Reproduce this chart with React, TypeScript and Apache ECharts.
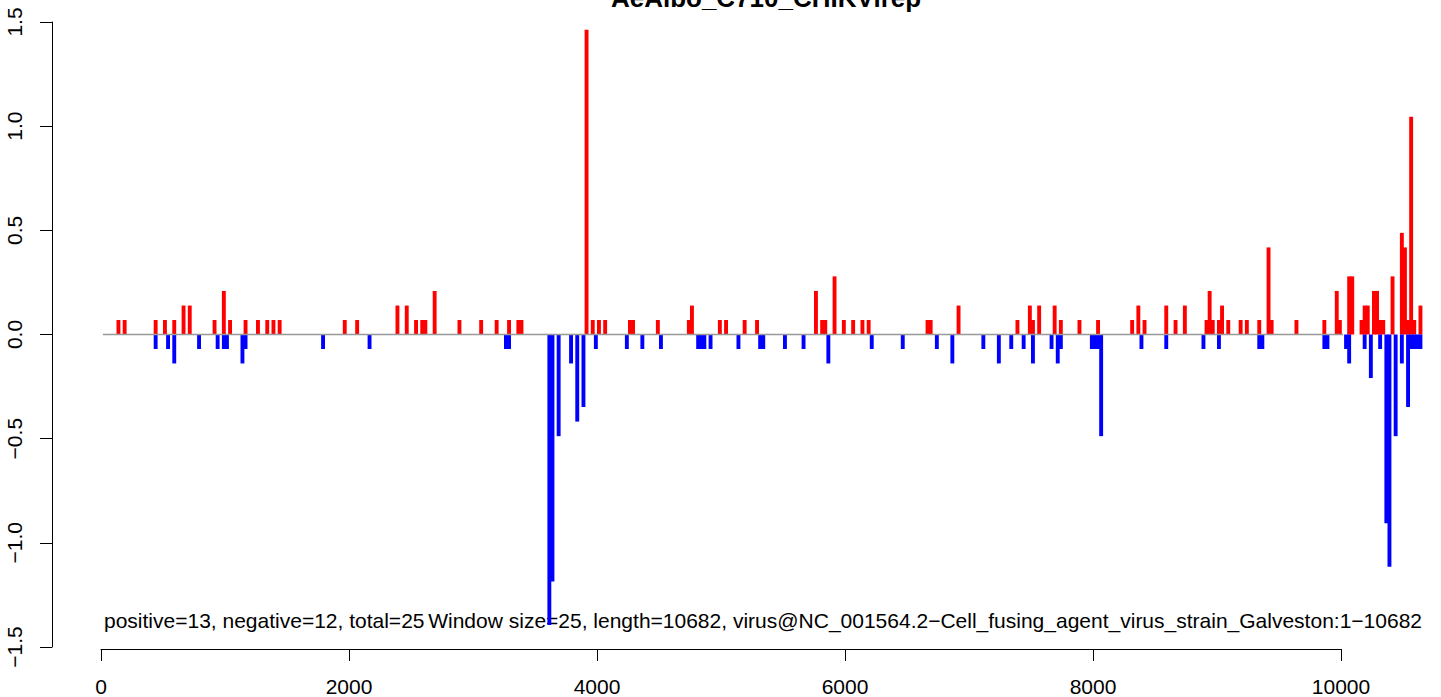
import React, { useEffect, useRef } from "react";
import * as echarts from "echarts";

const TITLE = "AeAlbo_C710_CHIKVirep";
const LEFT_NOTE = "positive=13, negative=12, total=25";
const RIGHT_NOTE =
  "Window size=25, length=10682, virus@NC_001564.2\u2212Cell_fusing_agent_virus_strain_Galveston:1\u221210682";

const WINDOW = 25;
const X_TICKS = [0, 2000, 4000, 6000, 8000, 10000];
const Y_TICKS = [-1.5, -1.0, -0.5, 0.0, 0.5, 1.0, 1.5];

const POS_X = [
  125, 175, 425, 500, 575, 650, 700, 900, 975, 1025, 1150, 1250, 1325, 1375, 1425,
  1950, 2050, 2375, 2450, 2525, 2575, 2600, 2675, 2875, 3050, 3175, 3275, 3350, 3375,
  3900, 3950, 4000, 4050, 4250, 4275, 4475, 4725, 4750, 4975, 5025, 5175, 5275,
  5750, 5800, 5825, 5900, 5975, 6050, 6125, 6175, 6650, 6675, 6900,
  7375, 7475, 7500, 7550, 7675, 7725, 7875, 8025, 8300, 8350, 8400, 8575, 8650, 8725,
  8900, 8925, 8950, 9000, 9025, 9075, 9175, 9225, 9325, 9400, 9425, 9625, 9850,
  9950, 9975, 10050, 10075, 10150, 10175, 10200, 10250, 10275, 10300, 10325,
  10400, 10475, 10500, 10525, 10550, 10575, 10625,
];
const POS_Y = [
  0.0697, 0.0697, 0.0697, 0.0697, 0.0697, 0.139, 0.139, 0.0697, 0.209, 0.0697, 0.0697, 0.0697, 0.0697, 0.0697, 0.0697,
  0.0697, 0.0697, 0.139, 0.139, 0.0697, 0.0697, 0.0697, 0.209, 0.0697, 0.0697, 0.0697, 0.0697, 0.0697, 0.0697,
  1.463, 0.0697, 0.0697, 0.0697, 0.0697, 0.0697, 0.0697, 0.0697, 0.139, 0.0697, 0.0697, 0.0697, 0.0697,
  0.209, 0.0697, 0.0697, 0.279, 0.0697, 0.0697, 0.0697, 0.0697, 0.0697, 0.0697, 0.139,
  0.0697, 0.139, 0.0697, 0.139, 0.139, 0.0697, 0.0697, 0.0697, 0.0697, 0.139, 0.0697, 0.139, 0.0697, 0.139,
  0.0697, 0.209, 0.0697, 0.0697, 0.139, 0.0697, 0.0697, 0.0697, 0.0697, 0.418, 0.0697, 0.0697, 0.0697,
  0.209, 0.0697, 0.279, 0.279, 0.0697, 0.139, 0.139, 0.209, 0.209, 0.0697, 0.0697,
  0.279, 0.488, 0.418, 0.0697, 1.045, 0.0697, 0.139,
];

const NEG_X = [
  425, 525, 575, 775, 925, 975, 1000, 1125, 1150, 1775, 2150, 3250, 3275,
  3600, 3625, 3675, 3775, 3825, 3875, 3975, 4225, 4350, 4500, 4800, 4825, 4850, 4900,
  5125, 5300, 5325, 5500, 5650, 5850, 6200, 6450, 6725, 6850, 7100, 7225, 7325, 7425,
  7500, 7650, 7700, 7725, 7975, 8000, 8025, 8050, 8375, 8575, 8875, 9000, 9325, 9350,
  9850, 9875, 10025, 10050, 10175, 10225, 10300, 10350, 10375, 10425, 10475, 10525,
  10550, 10575, 10600, 10625,
];
const NEG_Y = [
  -0.0697, -0.0697, -0.139, -0.0697, -0.0697, -0.0697, -0.0697, -0.139, -0.0697, -0.0697, -0.0697, -0.0697, -0.0697,
  -1.394, -1.185, -0.488, -0.139, -0.418, -0.348, -0.0697, -0.0697, -0.0697, -0.0697, -0.0697, -0.0697, -0.0697, -0.0697,
  -0.0697, -0.0697, -0.0697, -0.0697, -0.0697, -0.139, -0.0697, -0.0697, -0.0697, -0.139, -0.0697, -0.139, -0.0697, -0.0697,
  -0.139, -0.0697, -0.139, -0.0697, -0.0697, -0.0697, -0.0697, -0.488, -0.0697, -0.0697, -0.0697, -0.0697, -0.0697, -0.0697,
  -0.0697, -0.0697, -0.0697, -0.139, -0.0697, -0.209, -0.0697, -0.906, -1.115, -0.488, -0.139, -0.348,
  -0.0697, -0.0697, -0.0697, -0.0697,
];

const BASELINE_X = [15, 10740];

const FONT = "'Liberation Sans', Arial, Helvetica, sans-serif";

function barSeries(xs: number[], ys: number[], color: string) {
  return {
    type: "custom",
    silent: true,
    clip: false,
    z: 3,
    encode: { x: 0, y: 1 },
    data: xs.map((x, i) => [x, ys[i]]),
    renderItem: (params: any, api: any) => {
      const x = api.value(0);
      const v = api.value(1);
      const a = api.coord([x, 0]);
      const b = api.coord([x, v]);
      const w = api.size([WINDOW, 0])[0];
      return {
        type: "rect",
        shape: {
          x: a[0],
          y: Math.min(a[1], b[1]),
          width: w + 0.8,
          height: Math.abs(b[1] - a[1]),
        },
        style: { fill: color },
      };
    },
  };
}

export default function App() {
  const ref = useRef<HTMLDivElement>(null);
  useEffect(() => {
    if (!ref.current) return;
    const chart = echarts.init(ref.current, undefined, { renderer: "svg" });
    chart.setOption({
      animation: false,
      backgroundColor: "#ffffff",
      grid: { left: 101, right: 100, top: 22, bottom: 47, containLabel: false },
      xAxis: {
        type: "value",
        min: X_TICKS[0],
        max: X_TICKS[X_TICKS.length - 1],
        interval: 2000,
        offset: 2,
        axisLine: { show: true, onZero: false, lineStyle: { color: "#000", width: 1 } },
        axisTick: { show: true, length: 12, lineStyle: { color: "#000", width: 1 } },
        axisLabel: {
          fontSize: 21,
          color: "#000",
          margin: 27,
          fontFamily: FONT,
          formatter: (v: number) => String(v),
        },
        splitLine: { show: false },
        minorTick: { show: false },
      },
      yAxis: {
        type: "value",
        min: Y_TICKS[0],
        max: Y_TICKS[Y_TICKS.length - 1],
        interval: 0.5,
        offset: 49,
        axisLine: { show: true, onZero: false, lineStyle: { color: "#000", width: 1 } },
        axisTick: { show: true, length: 12, lineStyle: { color: "#000", width: 1 } },
        axisLabel: {
          fontSize: 21,
          color: "#000",
          margin: 27,
          rotate: 90,
          fontFamily: FONT,
          formatter: (v: number) => v.toFixed(1).replace("-", "\u2212"),
        },
        splitLine: { show: false },
      },
      graphic: [
        {
          type: "text",
          x: 766,
          y: -2,
          z: 0,
          style: {
            text: TITLE,
            font: `bold 26px ${FONT}`,
            fill: "#000",
            align: "center",
            verticalAlign: "middle",
          },
        },
        {
          type: "text",
          x: 104,
          y: 620.5,
          z: 0,
          style: {
            text: LEFT_NOTE,
            font: `21px ${FONT}`,
            fill: "#000",
            align: "left",
            verticalAlign: "middle",
          },
        },
        {
          type: "text",
          x: 1422,
          y: 620.5,
          z: 0,
          style: {
            text: RIGHT_NOTE,
            font: `21px ${FONT}`,
            fill: "#000",
            align: "right",
            verticalAlign: "middle",
          },
        },
      ],
      series: [
        barSeries(POS_X, POS_Y, "#ff0000"),
        barSeries(NEG_X, NEG_Y, "#0000ff"),
        {
          type: "line",
          silent: true,
          clip: false,
          z: 4,
          symbol: "none",
          data: BASELINE_X.map((x) => [x, 0]),
          lineStyle: { color: "#999999", width: 1.5 },
        },
      ],
    });
    return () => chart.dispose();
  }, []);
  return (
    <div
      ref={ref}
      style={{ position: "fixed", left: 0, top: 0, width: 1441, height: 697, background: "#fff" }}
    />
  );
}
